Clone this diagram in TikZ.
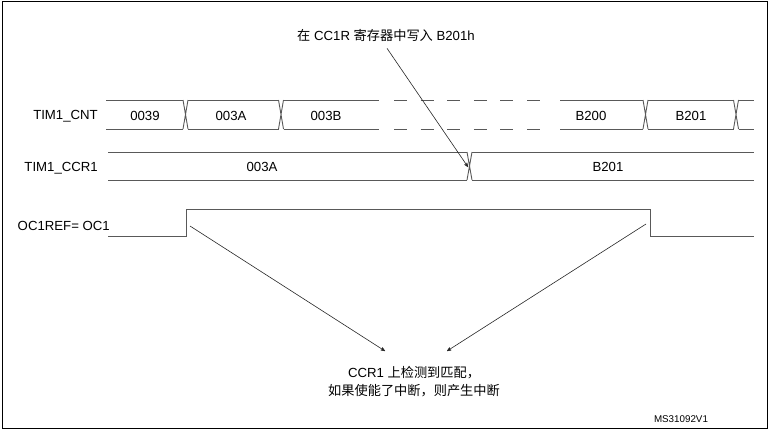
\documentclass[tikz,border=0pt]{standalone}
\usepackage{fontspec}
\setmainfont{Liberation Sans}
\newfontfamily\cjk{Noto Sans CJK SC}
\usetikzlibrary{arrows}

\begin{document}
\begin{tikzpicture}[x=1pt,y=-1pt,>=stealth',font=\fontsize{13.2}{18}\selectfont]
  \tikzstyle{frame}=[draw=black,line width=1.4pt]
  \tikzstyle{wave}=[draw=black!65,line width=0.9pt]
  \tikzstyle{gap}=[wave,dash pattern=on 13pt off 13.6pt]
  \tikzstyle{signal}=[anchor=east,inner sep=0pt]
  \tikzstyle{value}=[inner sep=0pt]
  \tikzstyle{pointer}=[->,draw=black!85,line width=0.6pt]
  \useasboundingbox (0,0) rectangle (770,431);
  \draw[frame] (2.5,1.5) rectangle (767.5,428.5);

  % signal names
  \node[signal] (cnt) at (98,116) {TIM1\_CNT};
  \node[signal] (ccr) at (98,168) {TIM1\_CCR1};
  \node[signal] (oc) at (110,226) {OC1REF= OC1};

  % counter
  \draw[wave] (106,100) -- (183,100) (188,100) -- (278.5,100) (283.5,100) -- (379,100);
  \draw[wave] (106,129) -- (183,129) (188,129) -- (278.5,129) (283.5,129) -- (379,129);
  \draw[gap] (394,100) -- (541,100);
  \draw[gap] (394,129) -- (541,129);
  \draw[wave] (560,100) -- (643,100) (648,100) -- (733.5,100) (738.5,100) -- (754,100);
  \draw[wave] (560,129) -- (643,129) (648,129) -- (733.5,129) (738.5,129) -- (754,129);
  \foreach \x in {185.5,281,645.5,736}
    \draw[wave] (\x-2.5,100) -- (\x+2.5,129) (\x+2.5,100) -- (\x-2.5,129);
  \node[value] (c39) at (145,116) {0039};
  \node[value] (c3a) at (231,116) {003A};
  \node[value] (c3b) at (326,116) {003B};
  \node[value] (c200) at (591,116) {B200};
  \node[value] (c201) at (691,116) {B201};

  % compare register
  \draw[wave] (108,152) -- (467,152) (472,152) -- (754,152);
  \draw[wave] (108,180) -- (467,180) (472,180) -- (754,180);
  \draw[wave] (467,152) -- (472,180) (472,152) -- (467,180);
  \coordinate (load) at (468,167);
  \node[value] (old) at (262,167) {003A};
  \node[value] (new) at (608,167) {B201};

  % output reference
  \draw[wave] (108,236) -- (186,236) -- (186,209) -- (650,209) -- (650,236) -- (754,236);
  \coordinate (rise) at (190,226);
  \coordinate (fall) at (646,224);

  % notes
  \node[value] (write) at (386,35) {{\cjk 在} CC1R {\cjk 寄存器中写入} B201h};
  \node[value,align=center] (match) at (414,382)
    {CCR1 {\cjk 上检测到匹配，}\\{\cjk 如果使能了中断，则产生中断}};
  \coordinate (hitl) at (385,351);
  \coordinate (hitr) at (447,351);
  \draw[pointer] (write.south) ++(1,7) -- (load);
  \draw[pointer] (rise) -- (hitl);
  \draw[pointer] (fall) -- (hitr);

  \node[value,font=\fontsize{9.8}{12}\selectfont] (id) at (681,419) {MS31092V1};
\end{tikzpicture}
\end{document}
